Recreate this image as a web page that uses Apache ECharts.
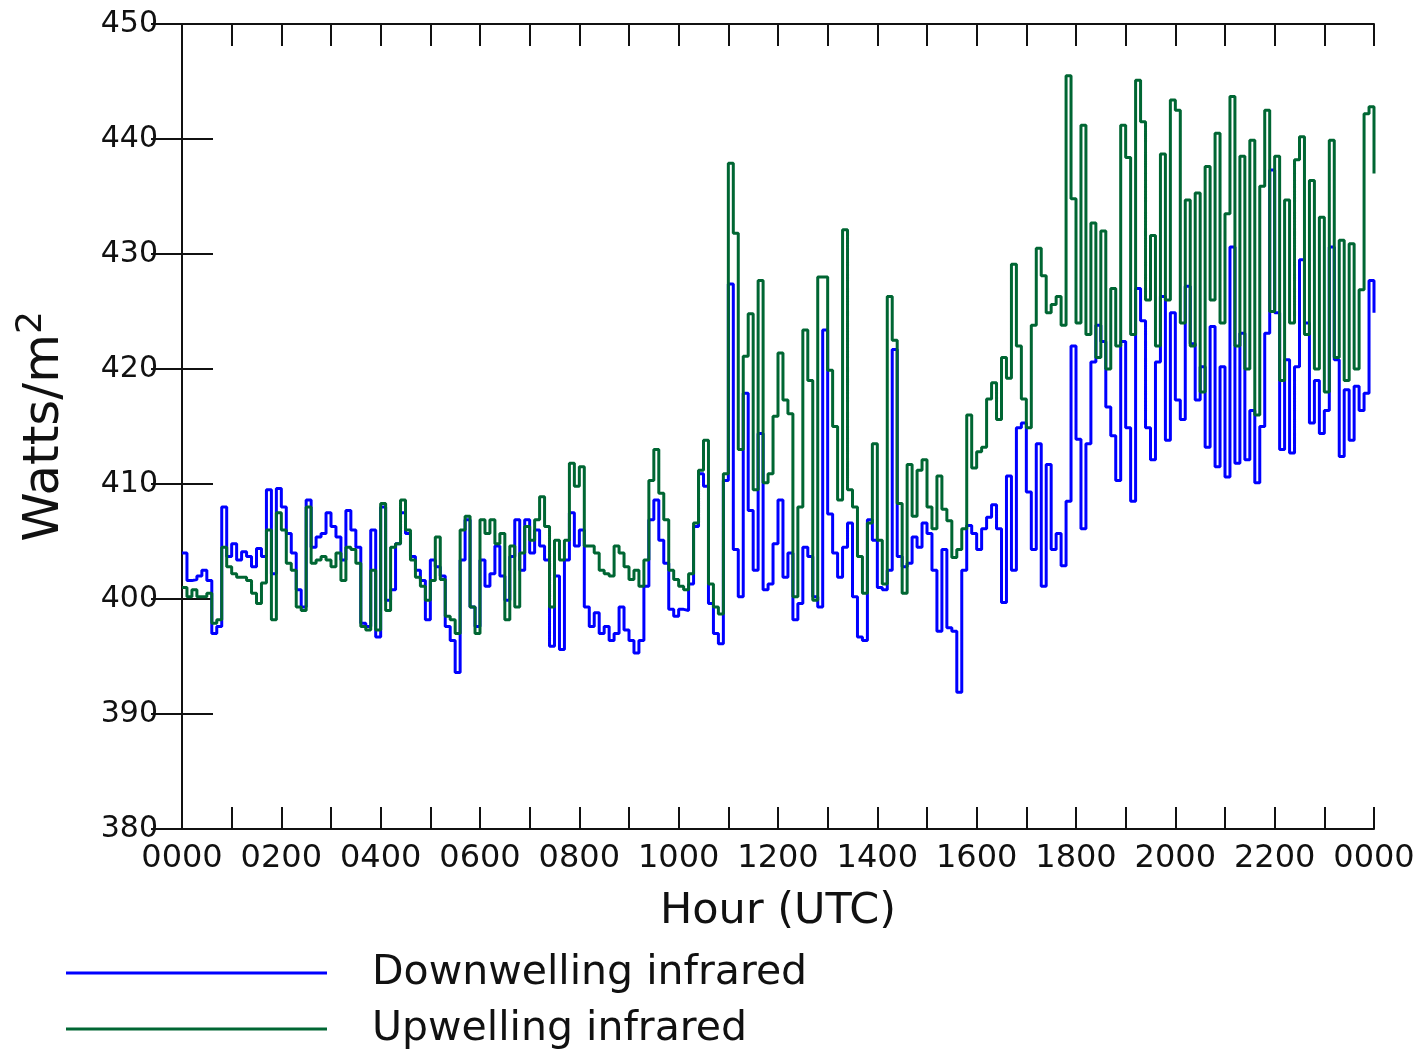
<!DOCTYPE html>
<html>
<head>
<meta charset="utf-8">
<script src="https://cdn.jsdelivr.net/npm/echarts@6/dist/echarts.min.js"></script>
<style>
html, body {margin: 0; padding: 0; background: #fff;}
#chart {width: 1420px; height: 1054px;}
</style>
</head>
<body>
<div id="chart"></div>
<script>
// sampled every 6 minutes, 0000 -> 0000 next day
var STEP_HOURS = 0.1;
var tickLabels = ['0000', '0200', '0400', '0600', '0800', '1000', '1200',
                  '1400', '1600', '1800', '2000', '2200', '0000'];
var seriesNames = ['Downwelling infrared', 'Upwelling infrared'];

var downwelling = [
    404, 401.6, 401.7, 402, 402.5, 401.6, 397, 397.6, 408, 403.7,
    404.8, 403.4, 404.1, 403.7, 402.8, 404.4, 403.7, 409.5, 402.2, 409.6,
    408, 405.7, 404, 400.8, 399.3, 408.6, 404.5, 405.4, 405.7, 407.5,
    406.3, 405.4, 403.4, 407.7, 406, 404.5, 397.9, 397.6, 406, 396.7,
    408, 399.9, 400.8, 404.8, 407.5, 405.7, 403.7, 402.5, 401.6, 398.2,
    403.4, 402.8, 402, 397.6, 396.4, 393.6, 403.4, 406.9, 399.3, 397.6,
    403.4, 401.1, 402.2, 404.6, 402, 399.9, 403.7, 406.9, 402.5, 406.9,
    404, 406, 404.6, 403.4, 395.9, 402, 395.6, 403.4, 407.5, 404.6,
    406, 399.3, 397.6, 398.8, 397, 397.6, 396.4, 397, 399.3, 397.3,
    396.4, 395.3, 396.4, 401.1, 406.9, 408.6, 405.1, 403.1, 399.1, 398.5,
    399.1, 399, 401.3, 406.3, 410.9, 409.8, 399.6, 397, 396.1, 410.3,
    427.4, 404.3, 400.2, 417.9, 407.7, 402.5, 414.4, 400.8, 401.3, 404.8,
    408.6, 401.9, 404, 398.2, 399.6, 404.5, 403.7, 400.2, 399.3, 423.4,
    407.4, 404, 401.9, 404.5, 406.6, 400.2, 396.7, 396.4, 406.9, 405.1,
    401, 400.8, 402.5, 421.7, 403.7, 402.8, 403.1, 405.4, 404.5, 406.6,
    405.7, 402.5, 397.2, 404.3, 397.5, 397.2, 391.9, 402.5, 406.4, 405.7,
    404.3, 406.1, 407.1, 408.2, 406.1, 399.7, 410.7, 402.5, 414.9, 415.3,
    409.3, 404.3, 413.5, 401.1, 411.7, 404.3, 405.7, 402.9, 408.5, 422,
    413.9, 406.1, 413.5, 420.6, 423.8, 422.4, 416.7, 414.2, 410.3, 422.4,
    414.9, 408.5, 427, 424.2, 414.9, 412.1, 420.6, 426.3, 413.8, 424.9,
    417.3, 415.6, 427.2, 422.2, 417.3, 420.2, 413.2, 423.7, 411.5, 420.2,
    410.6, 430.6, 411.8, 423.1, 412.1, 416.4, 410.1, 415, 423.1, 437.3,
    424.9, 413, 420.8, 412.7, 420.2, 429.5, 424, 415.3, 419, 414.4,
    416.4, 430.6, 420.8, 412.4, 418.2, 413.8, 418.5, 416.4, 417.9, 427.7,
    424.9
];

var upwelling = [
    401, 400.2, 400.8, 400.2, 400.2, 400.5, 397.9, 398.2, 404.5, 402.8,
    402.2, 401.9, 401.9, 401.6, 400.5, 399.6, 401.4, 406, 398.2, 407.5,
    406, 403.1, 402.5, 399.3, 399, 408, 403.1, 403.4, 403.7, 403.4,
    402.8, 404, 401.6, 404.5, 404.3, 403.1, 397.6, 397.3, 402.5, 397.3,
    408.3, 399, 404.5, 404.8, 408.6, 406, 403.4, 401.9, 401.1, 399.9,
    401.6, 405.4, 401.7, 398.5, 398.2, 397, 406, 407.2, 399.3, 397,
    406.9, 405.7, 406.9, 404.8, 405.7, 398.2, 404.6, 399.3, 404, 406.3,
    405.1, 406.9, 408.9, 406.3, 399.3, 405.1, 403.4, 405.1, 411.8, 409.8,
    411.5, 404.6, 404.6, 404, 402.5, 402.2, 402, 404.6, 404, 402.8,
    401.7, 402.5, 401.1, 403.4, 410.3, 413, 409.2, 406.9, 402.5, 401.7,
    401.1, 400.8, 402.2, 406.6, 411.2, 413.8, 401.3, 399.3, 398.7, 410.9,
    437.9, 431.8, 413, 421.1, 424.8, 409.5, 427.7, 410.1, 410.9, 415.9,
    421.4, 417.3, 416.1, 400.2, 408, 423.4, 419, 399.9, 428, 428,
    419.9, 415, 408.6, 432.1, 409.5, 408, 403.7, 400.5, 406.6, 413.5,
    405.1, 401.3, 426.3, 422.5, 408.3, 400.5, 411.7, 407.2, 411.2, 412.1,
    408, 406.1, 410.7, 407.8, 406.8, 403.6, 404.3, 406.1, 416, 411.4,
    412.8, 413.2, 417.4, 418.8, 415.6, 421, 419.2, 429.1, 422, 417.4,
    414.9, 423.8, 430.5, 428.1, 424.9, 425.6, 426.3, 423.8, 445.5, 434.8,
    424, 441.2, 423, 432.7, 421, 432, 420, 427, 422, 441.2,
    438.4, 423, 445.1, 441.5, 426, 431.6, 422, 438.7, 426, 443.4,
    442.5, 424, 434.7, 422, 435.3, 418, 437.6, 426, 440.5, 424,
    433.5, 443.7, 422, 438.5, 420, 439.9, 416, 435.9, 442.5, 425,
    438.5, 419, 434.7, 424, 438.2, 440.2, 423, 436.4, 420, 433.2,
    418, 439.9, 421, 431.2, 419, 430.9, 420, 426.9, 442.2, 442.8,
    437
];

function withHours(values) {
    return values.map(function (v, i) { return [i * STEP_HOURS, v]; });
}

var FONT = 'DejaVu Sans';
var INK = '#111';

var dom = document.getElementById('chart');
var myChart = echarts.init(dom);
var option = {
    animation: false,
    backgroundColor: '#fff',
    grid: {left: 182, right: 46, top: 24, bottom: 225},
    legend: {
        data: seriesNames,
        orient: 'vertical',
        left: 66, bottom: 3,
        padding: 0,
        icon: 'rect',
        itemWidth: 261, itemHeight: 3, itemGap: 12,
        textStyle: {fontFamily: FONT, fontSize: 41, color: INK, lineHeight: 44, padding: [0, 0, 0, 40]}
    },
    xAxis: [
        {
            type: 'value', min: 0, max: 24, interval: 1, position: 'bottom',
            name: 'Hour (UTC)', nameLocation: 'middle', nameGap: 61,
            nameTextStyle: {fontFamily: FONT, fontSize: 43, color: INK},
            axisLine: {lineStyle: {color: INK, width: 2}},
            axisTick: {inside: true, length: 22, lineStyle: {color: INK, width: 2}},
            axisLabel: {
                margin: 14, fontFamily: FONT, fontSize: 32, color: INK,
                showMinLabel: true, showMaxLabel: true,
                formatter: function (v) { return v % 2 === 0 ? tickLabels[v / 2] : ''; }
            },
            splitLine: {show: false}
        },
        {
            type: 'value', min: 0, max: 24, interval: 1, position: 'top',
            axisLine: {lineStyle: {color: INK, width: 2}},
            axisTick: {inside: true, length: 22, lineStyle: {color: INK, width: 2}},
            axisLabel: {show: false},
            splitLine: {show: false}
        }
    ],
    yAxis: [
        {
            type: 'value', min: 380, max: 450, interval: 10, position: 'left',
            name: 'Watts/m{sup|2}', nameLocation: 'middle', nameGap: 106, nameRotate: 90,
            nameTextStyle: {
                fontFamily: FONT, fontSize: 50, color: INK,
                rich: {sup: {fontFamily: FONT, fontSize: 36, color: INK, padding: [0, 0, 26, 0]}}
            },
            axisLine: {lineStyle: {color: INK, width: 2}},
            axisTick: {inside: true, length: 31, lineStyle: {color: INK, width: 2}},
            axisLabel: {margin: 24, fontFamily: FONT, fontSize: 30, color: INK},
            splitLine: {show: false}
        },
        {
            type: 'value', min: 380, max: 450, interval: 10, position: 'right',
            axisLine: {lineStyle: {color: INK, width: 2}},
            axisTick: {inside: true, length: 31, lineStyle: {color: INK, width: 2}},
            axisLabel: {show: false},
            splitLine: {show: false}
        }
    ],
    series: [
        {
            name: seriesNames[0], type: 'line', step: 'end', symbol: 'none',
            lineStyle: {color: '#0000ff', width: 3}, itemStyle: {color: '#0000ff'},
            data: withHours(downwelling)
        },
        {
            name: seriesNames[1], type: 'line', step: 'end', symbol: 'none',
            lineStyle: {color: '#006633', width: 3}, itemStyle: {color: '#006633'},
            data: withHours(upwelling)
        }
    ]
};
if (option && typeof option === "object") {
    myChart.setOption(option, true);
}
</script>
</body>
</html>
